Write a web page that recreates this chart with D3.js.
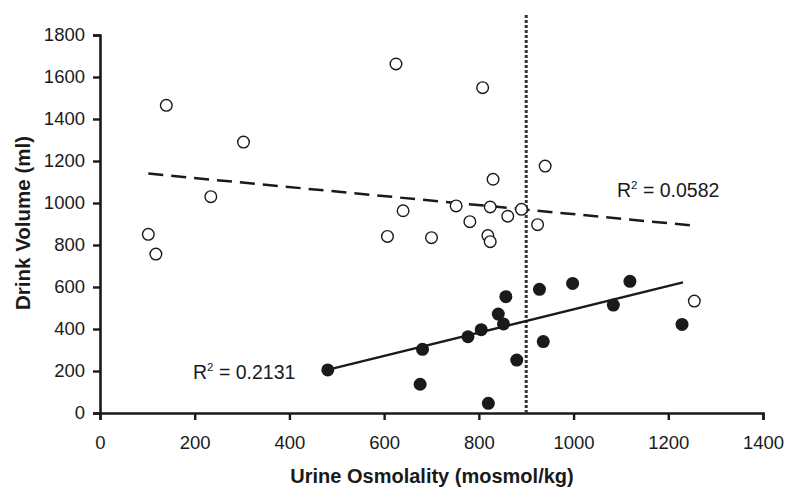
<!DOCTYPE html>
<html>
<head>
<meta charset="utf-8">
<script src="https://cdn.jsdelivr.net/npm/d3@7"></script>
<style>
  html, body { margin: 0; padding: 0; background: #fff; }
  svg { display: block; font-family: "Liberation Sans", Arial, sans-serif; }
</style>
</head>
<body>
<svg id="chart" width="788" height="489"></svg>
<script>
// Open circles (dashed trend)
const openX = [140, 303, 234, 102, 118, 625, 607, 808, 940, 830, 640, 752, 824, 781, 861, 890, 924, 700, 819, 824, 1255];
const openY = [1465, 1290, 1030, 851, 757, 1662, 841, 1549, 1176, 1113, 963, 986, 981, 911, 937, 970, 897, 835, 845, 816, 533];
// Filled circles (solid trend)
const filledX = [681, 676, 777, 805, 841, 852, 857, 820, 880, 928, 936, 998, 1084, 1119, 1229, 481];
const filledY = [303, 137, 363, 397, 471, 424, 554, 46, 252, 589, 340, 617, 514, 627, 422, 205];
// Trend line endpoints
const dashedTrendX = [102, 1255];
const dashedTrendY = [1140, 892];
const solidTrendX = [480, 1231];
const solidTrendY = [205, 622];
// Threshold line
const thresholdX = 900;
const thresholdY = [0, 1900];
// Ticks
const xTicks = [0, 200, 400, 600, 800, 1000, 1200, 1400];
const yTicks = [0, 200, 400, 600, 800, 1000, 1200, 1400, 1600, 1800];
// Labels
const xTitle = "Urine Osmolality (mosmol/kg)";
const yTitle = "Drink Volume (ml)";
const r2Dashed = "0.0582";
const r2Solid = "0.2131";

const svg = d3.select("#chart");
const x = d3.scaleLinear().domain([0, 1400]).range([100, 763]);
const y = d3.scaleLinear().domain([0, 1800]).range([413, 35]);
const ink = "#1a1a1a";

// Axes
const xAxis = svg.append("g").attr("transform", "translate(0,413)")
  .call(d3.axisBottom(x).tickValues(xTicks).tickSize(7).tickPadding(16).tickFormat(d3.format("d")));
const yAxis = svg.append("g").attr("transform", "translate(100,0)")
  .call(d3.axisLeft(y).tickValues(yTicks).tickSize(7).tickPadding(8).tickFormat(d3.format("d")));
[xAxis, yAxis].forEach(g => {
  g.select(".domain").attr("stroke", ink).attr("stroke-width", 2.6);
  g.selectAll(".tick line").attr("stroke", ink).attr("stroke-width", 2.4);
  g.selectAll(".tick text").attr("fill", ink).style("font-size", "18.5px")
    .style("font-family", "'Liberation Sans', Arial, sans-serif");
});

// Threshold dotted line
svg.append("line")
  .attr("x1", x(thresholdX)).attr("x2", x(thresholdX))
  .attr("y1", y(thresholdY[0])).attr("y2", y(thresholdY[1]))
  .attr("stroke", "#333").attr("stroke-width", 3).attr("stroke-dasharray", "3,2");

// Trend lines
svg.append("line")
  .attr("x1", x(dashedTrendX[0])).attr("y1", y(dashedTrendY[0]))
  .attr("x2", x(dashedTrendX[1])).attr("y2", y(dashedTrendY[1]))
  .attr("stroke", ink).attr("stroke-width", 2.5).attr("stroke-dasharray", "15,8");
svg.append("line")
  .attr("x1", x(solidTrendX[0])).attr("y1", y(solidTrendY[0]))
  .attr("x2", x(solidTrendX[1])).attr("y2", y(solidTrendY[1]))
  .attr("stroke", ink).attr("stroke-width", 2.3);

// Points
svg.append("g").selectAll("circle").data(openX.map((v, i) => [v, openY[i]])).join("circle")
  .attr("cx", d => x(d[0])).attr("cy", d => y(d[1])).attr("r", 5.8)
  .attr("fill", "#fff").attr("stroke", ink).attr("stroke-width", 1.4);
svg.append("g").selectAll("circle").data(filledX.map((v, i) => [v, filledY[i]])).join("circle")
  .attr("cx", d => x(d[0])).attr("cy", d => y(d[1])).attr("r", 6.5)
  .attr("fill", ink);

// R² labels
function r2Label(px, py, val) {
  const t = svg.append("text").attr("x", px).attr("y", py).attr("fill", ink)
    .style("font-size", "19.5px");
  t.append("tspan").text("R");
  t.append("tspan").attr("dy", -8).style("font-size", "11.5px").text("2");
  t.append("tspan").attr("dy", 8).text(" = " + val);
}
r2Label(617, 197, r2Dashed);
r2Label(193, 379, r2Solid);

// Axis titles
svg.append("text").attr("x", 432).attr("y", 483).attr("text-anchor", "middle")
  .attr("fill", ink).style("font-size", "20px").style("font-weight", "bold").text(xTitle);
svg.append("text").attr("transform", "translate(29.5,223) rotate(-90)").attr("text-anchor", "middle")
  .attr("fill", ink).style("font-size", "20.5px").style("font-weight", "bold").text(yTitle);
</script>
</body>
</html>
